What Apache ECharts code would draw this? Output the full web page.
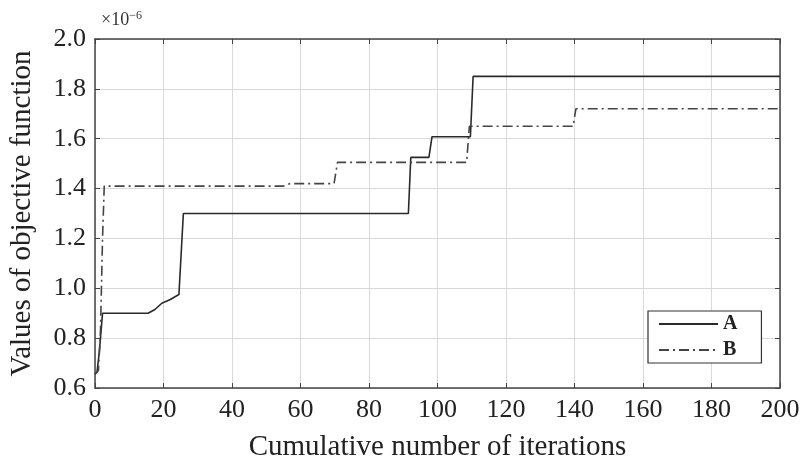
<!DOCTYPE html>
<html>
<head>
<meta charset="utf-8">
<script src="https://cdn.jsdelivr.net/npm/echarts@6/dist/echarts.min.js"></script>
<style>
  html, body { margin: 0; padding: 0; background: #fff; }
  #main { width: 803px; height: 462px; }
</style>
</head>
<body>
<div id="main"></div>
<script>
// values in units of 1e-6
var seriesNames = ['A', 'B'];
var xTicks = [0, 20, 40, 60, 80, 100, 120, 140, 160, 180, 200];
var yTicks = [0.6, 0.8, 1.0, 1.2, 1.4, 1.6, 1.8, 2.0];

var dataA = [
  [0, 0.655], [0.6, 0.665], [1.3, 0.75], [2.2, 0.9], [15.5, 0.9],
  [17.5, 0.915], [19.5, 0.94], [22, 0.955], [24.5, 0.975], [25, 0.98],
  [25.8, 1.3], [91.5, 1.3], [92.2, 1.525], [97.5, 1.525], [98.4, 1.608],
  [109.6, 1.608], [110.4, 1.85], [200, 1.85]
];
var dataB = [
  [0, 0.655], [1, 0.67], [1.6, 0.83], [2.2, 1.2], [2.7, 1.41],
  [55, 1.41], [57, 1.42], [69.8, 1.42], [70.8, 1.505], [108.5, 1.505],
  [109.3, 1.65], [139.6, 1.65], [140.4, 1.72], [200, 1.72]
];

var serif = '"Liberation Serif", "DejaVu Serif", serif';
var axisColor = '#444';

var myChart = echarts.init(document.getElementById('main'));

var baseX = {
  type: 'value',
  min: xTicks[0],
  max: xTicks[xTicks.length - 1],
  interval: 20,
  axisLine: { show: true, onZero: false, lineStyle: { color: axisColor, width: 1.5 } },
  axisTick: { show: true, inside: true, length: 5, lineStyle: { color: axisColor } }
};
var baseY = {
  type: 'value',
  min: yTicks[0],
  max: yTicks[yTicks.length - 1],
  interval: 0.2,
  axisLine: { show: true, onZero: false, lineStyle: { color: axisColor, width: 1.5 } },
  axisTick: { show: true, inside: true, length: 5, lineStyle: { color: axisColor } }
};

var option = {
  backgroundColor: '#fff',
  animation: false,
  title: {
    text: '×10{sup|−6}',
    left: 96,
    top: 5,
    textStyle: {
      fontFamily: serif,
      fontSize: 18,
      fontWeight: 'normal',
      color: '#333',
      rich: {
        sup: { fontFamily: serif, fontSize: 12, color: '#333', verticalAlign: 'top', padding: [0, 0, 9, 0] }
      }
    }
  },
  grid: { left: 95, right: 23, top: 39, bottom: 74, outerBoundsMode: 'none' },
  legend: {
    data: seriesNames,
    orient: 'vertical',
    left: 648,
    top: 311,
    padding: [3, 24, 3, 10],
    itemGap: 6,
    itemWidth: 59,
    itemHeight: 14,
    backgroundColor: '#fff',
    borderColor: '#333',
    borderWidth: 1.2,
    borderRadius: 0,
    itemStyle: { opacity: 0 },
    textStyle: { fontFamily: serif, fontSize: 20, fontWeight: 'bold', color: '#222' }
  },
  xAxis: [
    Object.assign({}, baseX, {
      position: 'bottom',
      name: 'Cumulative number of iterations',
      nameLocation: 'middle',
      nameGap: 45,
      nameTextStyle: { fontFamily: serif, fontSize: 29, color: '#222' },
      axisLabel: { fontFamily: serif, fontSize: 26, color: '#222', margin: 9 },
      splitLine: { show: true, lineStyle: { color: '#d9d9d9', width: 1 } }
    }),
    Object.assign({}, baseX, {
      position: 'top',
      axisLabel: { show: false },
      splitLine: { show: false }
    })
  ],
  yAxis: [
    Object.assign({}, baseY, {
      position: 'left',
      name: 'Values of objective function',
      nameLocation: 'middle',
      nameGap: 58,
      nameTextStyle: { fontFamily: serif, fontSize: 29, color: '#222' },
      axisLabel: {
        fontFamily: serif, fontSize: 26, color: '#222', margin: 9,
        formatter: function (v) { return v.toFixed(1); }
      },
      splitLine: { show: true, lineStyle: { color: '#d9d9d9', width: 1 } }
    }),
    Object.assign({}, baseY, {
      position: 'right',
      axisLabel: { show: false },
      splitLine: { show: false }
    })
  ],
  series: [
    {
      name: seriesNames[0],
      type: 'line',
      data: dataA,
      symbol: 'none',
      lineStyle: { color: '#2a2a2a', width: 1.6, type: 'solid' },
      itemStyle: { color: '#2a2a2a' }
    },
    {
      name: seriesNames[1],
      type: 'line',
      data: dataB,
      symbol: 'none',
      lineStyle: { color: '#444', width: 1.6, type: [10, 4, 2, 4] },
      itemStyle: { color: '#444' }
    }
  ]
};
myChart.setOption(option);
</script>
</body>
</html>
